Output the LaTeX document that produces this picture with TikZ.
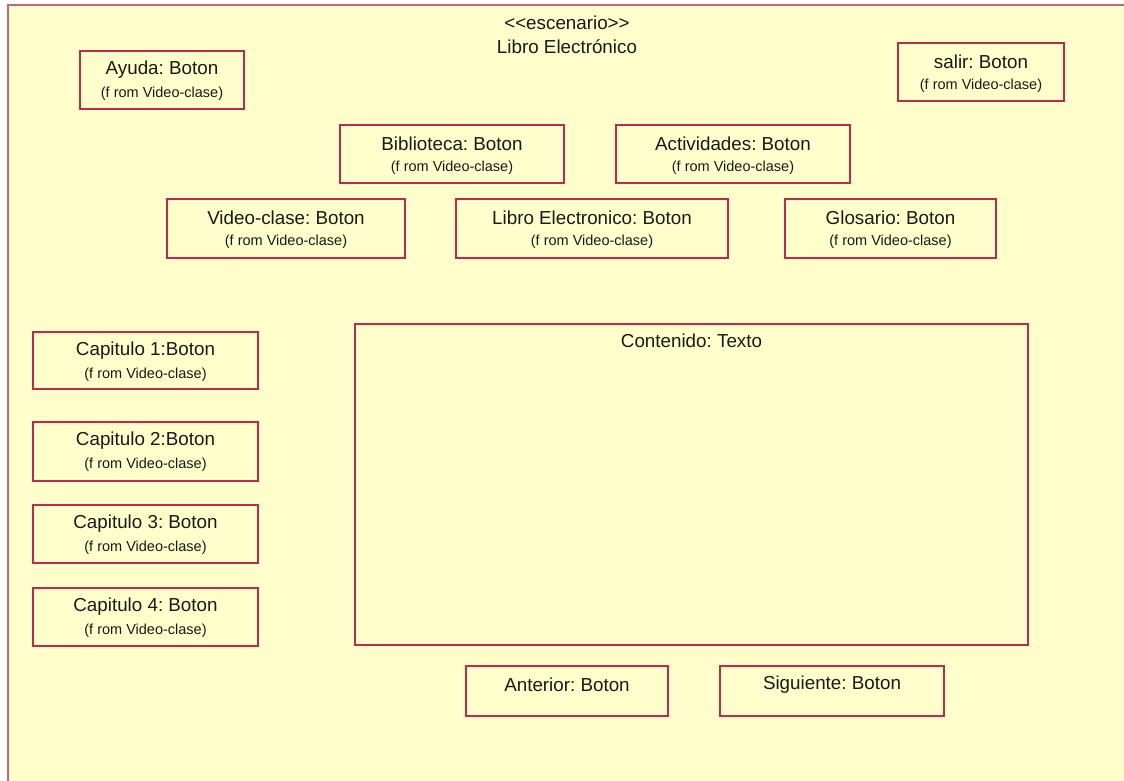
\documentclass[tikz,border=0pt]{standalone}
\usepackage{fontspec}
\setmainfont{Liberation Sans}
\frenchspacing
\definecolor{paper}{HTML}{FFFFCC}
\definecolor{edge}{HTML}{C0284E}
\definecolor{frameedge}{HTML}{C8647C}
\tikzset{
  box/.style={draw=edge, fill=paper, line width=1.1pt, inner sep=0pt},
  maintxt/.style={font=\fontsize{18.8}{21}\selectfont, inner sep=0pt, text=black!90},
  subtxt/.style={font=\fontsize{14.5}{16}\selectfont, inner sep=0pt, text=black!90},
}
% a button: name, left, top, right, bottom, caption
\newcommand{\btn}[6]{%
  \node[box, minimum width={#4-#2}, minimum height={#5-#3}] (#1) at ({(#2+#4)/2},{(#3+#5)/2}) {};
  \node[maintxt] (#1-t) at ([yshift=-19]#1.north) {#6};
  \node[subtxt] (#1-s) at ([yshift=-43]#1.north) {(f rom Video-clase)};
}
\begin{document}
\begin{tikzpicture}[x=1pt, y=-1pt]
\useasboundingbox (0,0) rectangle (1124,780);
\fill[white] (0,0) rectangle (1124,780);
% scenario frame, running off the right and bottom edges
\path[fill=paper] (8,5) rectangle (1130,790);
\draw[frameedge, line width=1.6pt] (8,790) -- (8,5) -- (1130,5);
\node[maintxt] (stereo) at (567,23) {<\kern0pt<escenario>\kern0pt>};
\node[maintxt] (title) at (567,47) {Libro Electrónico};

\btn{ayuda}{80}{51}{244}{109}{Ayuda: Boton}
\btn{salir}{898}{43}{1064}{101}{salir: Boton}
\btn{biblio}{340}{125}{564}{183}{Biblioteca: Boton}
\btn{activ}{616}{125}{850}{183}{Actividades: Boton}
\btn{video}{167}{199}{405}{258}{Video-clase: Boton}
\btn{libro}{456}{199}{728}{258}{Libro Electronico: Boton}
\btn{glosa}{785}{199}{996}{258}{Glosario: Boton}
\btn{cap1}{33}{332}{258}{389}{Capitulo 1:Boton}
\btn{cap2}{33}{422}{258}{481}{Capitulo 2:Boton}
\btn{cap3}{33}{505}{258}{563}{Capitulo 3: Boton}
\btn{cap4}{33}{588}{258}{646}{Capitulo 4: Boton}

\node[box, minimum width=673, minimum height=321] (cont) at (691.5,484.5) {};
\node[maintxt] (cont-t) at ([yshift=-17]cont.north) {Contenido: Texto};

\node[box, minimum width=202, minimum height=50] (ant) at (567,691) {};
\node[maintxt] (ant-t) at ([yshift=-19]ant.north) {Anterior: Boton};
\node[box, minimum width=224, minimum height=50] (sig) at (832,691) {};
\node[maintxt] (sig-t) at ([yshift=-19]sig.north) {Siguiente: Boton};
\end{tikzpicture}
\end{document}
